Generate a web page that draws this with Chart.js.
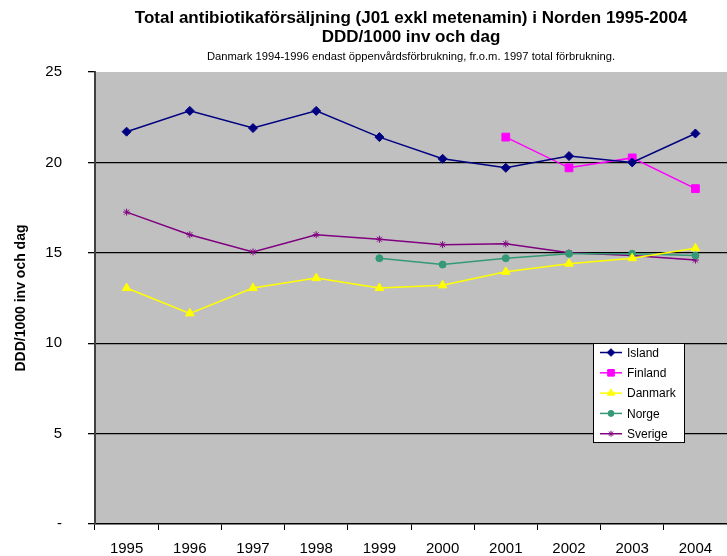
<!DOCTYPE html>
<html>
<head>
<meta charset="utf-8">
<script src="https://cdn.jsdelivr.net/npm/chart.js@4.4.0/dist/chart.umd.min.js"></script>
<style>
    body { margin: 0; background: #ffffff; }
    #wrap { width: 727px; height: 556px; }
</style>
</head>
<body>
<div id="wrap"><canvas id="line-chart-norden" width="727" height="556"></canvas></div>
<script>
// antibiotikaförsäljning i Norden, DDD/1000 inv och dag

var years = ['1995', '1996', '1997', '1998', '1999', '2000', '2001', '2002', '2003', '2004'];
var yTicks = [0, 5, 10, 15, 20, 25];

var island = [21.7, 22.85, 21.9, 22.85, 21.4, 20.2, 19.7, 20.35, 20.0, 21.6];
var finland = [null, null, null, null, null, null, 21.4, 19.7, 20.25, 18.55];
var danmark = [13.05, 11.65, 13.05, 13.6, 13.05, 13.2, 13.95, 14.4, 14.7, 15.25];
var norge = [null, null, null, null, 14.7, 14.35, 14.7, 14.95, 14.95, 14.85];
var sverige = [17.25, 16.0, 15.05, 16.0, 15.75, 15.45, 15.5, 15.0, 14.85, 14.6];

var seriesNames = ['Island', 'Finland', 'Danmark', 'Norge', 'Sverige'];
var seriesData = [island, finland, danmark, norge, sverige];
var seriesColors = ['#000080', '#ff00ff', '#ffff00', '#339977', '#800080'];
var seriesPoints = ['rectRot', 'rect', 'triangle', 'circle', 'star'];
var seriesRadius = [4.5, 5.5, 5, 3.5, 3.5];

var fontFamily = '"Liberation Sans", Arial, sans-serif';

var datasets = [];
seriesNames.forEach(function (name, i) {
    datasets.push({
        label: name,
        data: seriesData[i],
        borderColor: seriesColors[i],
        backgroundColor: seriesColors[i],
        borderWidth: 1.5,
        pointStyle: seriesPoints[i],
        pointRadius: seriesRadius[i],
        pointBorderColor: seriesColors[i],
        pointBackgroundColor: seriesColors[i],
        pointBorderWidth: 1,
        tension: 0,
        spanGaps: false
    });
});

// grå bakgrund i ritytan
var plotBackground = {
    id: 'plotBackground',
    beforeDraw: function (chart) {
        var a = chart.chartArea;
        var ctx = chart.ctx;
        ctx.save();
        ctx.fillStyle = '#c0c0c0';
        ctx.fillRect(a.left, a.top, a.right - a.left, a.bottom - a.top);
        ctx.restore();
    }
};

// förklaringsruta inne i ritytan
var boxLegend = {
    id: 'boxLegend',
    afterDraw: function (chart) {
        var a = chart.chartArea;
        var ctx = chart.ctx;
        var x = a.right - 134;
        var y = a.top + 271;
        var w = 91;
        var h = 99;
        ctx.save();
        ctx.fillStyle = '#ffffff';
        ctx.fillRect(x, y, w, h);
        ctx.strokeStyle = '#000000';
        ctx.lineWidth = 1;
        ctx.strokeRect(x + 0.5, y + 0.5, w, h);
        ctx.font = '12px ' + fontFamily;
        ctx.textBaseline = 'middle';
        chart.data.datasets.forEach(function (ds, i) {
            var cy = y + 9.5 + i * 20.3;
            ctx.strokeStyle = ds.borderColor;
            ctx.lineWidth = 1.5;
            ctx.beginPath();
            ctx.moveTo(x + 7, cy);
            ctx.lineTo(x + 29, cy);
            ctx.stroke();
            ctx.fillStyle = ds.backgroundColor;
            ctx.lineWidth = 1;
            Chart.helpers.drawPoint(ctx, {
                pointStyle: ds.pointStyle,
                radius: ds.pointRadius * 0.85,
                borderWidth: 1,
                rotation: 0
            }, x + 18, cy);
            ctx.fillStyle = '#000000';
            ctx.fillText(ds.label, x + 34, cy + 1);
        });
        ctx.restore();
    }
};

var ctx = document.getElementById('line-chart-norden').getContext('2d');

var lineChart = new Chart(ctx, {
    type: 'line',
    data: { labels: years, datasets: datasets },
    plugins: [plotBackground, boxLegend],
    options: {
        responsive: false,
        animation: false,
        layout: { padding: 0, autoPadding: false },
        plugins: {
            legend: { display: false },
            tooltip: { enabled: false },
            title: {
                display: true,
                fullSize: false,
                text: ['Total antibiotikaförsäljning (J01 exkl metenamin) i Norden 1995-2004', 'DDD/1000 inv och dag'],
                color: '#000000',
                font: { family: fontFamily, size: 17, weight: 'bold', lineHeight: 1.12 },
                padding: { top: 8.5, bottom: 0 }
            },
            subtitle: {
                display: true,
                fullSize: false,
                text: 'Danmark 1994-1996 endast öppenvårdsförbrukning, fr.o.m. 1997 total förbrukning.',
                color: '#000000',
                font: { family: fontFamily, size: 11.2, lineHeight: 1.2 },
                padding: { top: 4, bottom: 8 }
            }
        },
        scales: {
            x: {
                offset: true,
                grid: {
                    display: true,
                    offset: true,
                    drawOnChartArea: false,
                    drawTicks: true,
                    tickLength: 6,
                    color: '#000000'
                },
                border: { display: true, color: '#000000', width: 1.5 },
                ticks: {
                    color: '#000000',
                    padding: 10,
                    maxRotation: 0,
                    font: { family: fontFamily, size: 15 }
                },
                afterFit: function (scale) {
                    scale.height = 32;
                    scale.paddingLeft = 0;
                    scale.paddingRight = 0;
                }
            },
            y: {
                min: 0,
                max: 25,
                afterBuildTicks: function (scale) {
                    scale.ticks = yTicks.map(function (v) { return { value: v }; });
                },
                grid: {
                    color: function (c) { return c.tick.value == 0 || c.tick.value == 25 ? 'rgba(0,0,0,0)' : '#000000'; },
                    lineWidth: 1.3,
                    drawTicks: true,
                    tickLength: 7,
                    tickColor: '#000000'
                },
                border: { display: true, color: '#404040', width: 2 },
                ticks: {
                    color: '#000000',
                    padding: 26,
                    font: { family: fontFamily, size: 15 },
                    callback: function (value) { return value == 0 ? '-' : value; }
                },
                title: {
                    display: true,
                    text: 'DDD/1000 inv och dag',
                    color: '#000000',
                    font: { family: fontFamily, size: 14, weight: 'bold' },
                    padding: { top: 13, bottom: 0 }
                },
                afterFit: function (scale) {
                    scale.width = 95;
                    scale.paddingTop = 0;
                    scale.paddingBottom = 0;
                }
            }
        }
    }
});
</script>
</body>
</html>
